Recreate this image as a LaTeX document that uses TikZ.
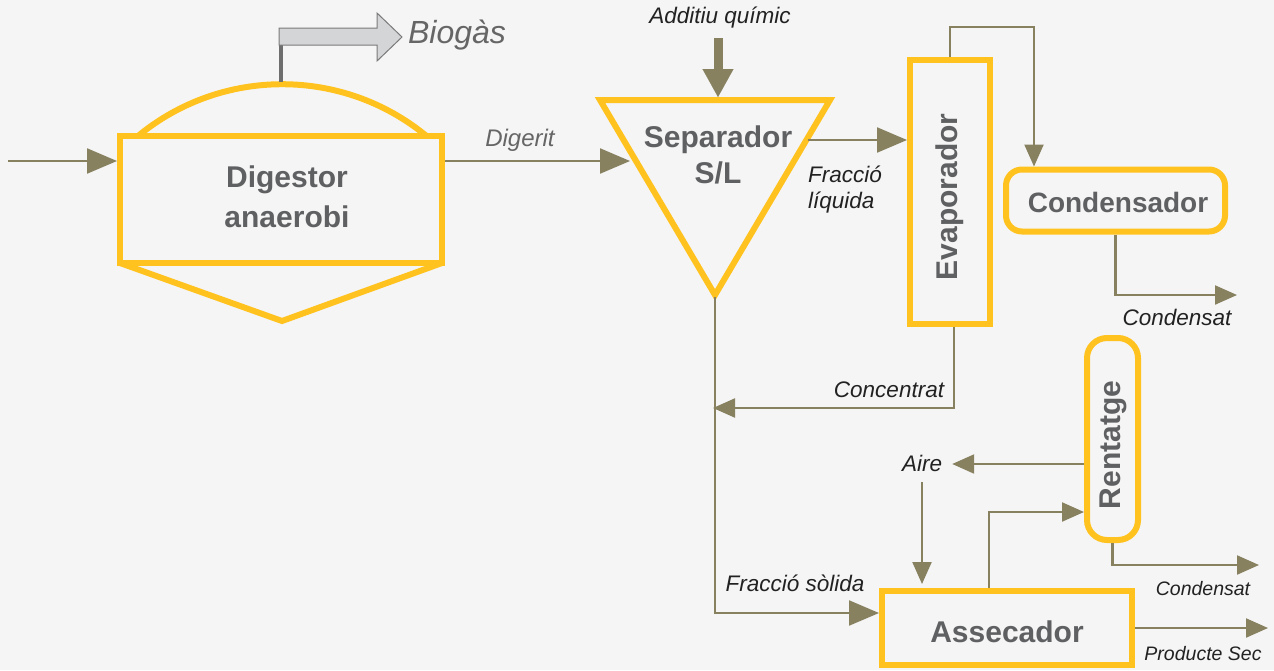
\documentclass[tikz,border=0pt]{standalone}
\usepackage{fontspec}
\setmainfont{Liberation Sans}
\usetikzlibrary{arrows.meta,calc}
\definecolor{bg}{HTML}{F5F5F5}
\definecolor{yel}{HTML}{FFC21F}
\definecolor{oli}{HTML}{878160}
\definecolor{txt}{HTML}{5F6062}
\definecolor{lab}{HTML}{222222}
\definecolor{gl}{HTML}{666666}
\definecolor{blk}{HTML}{D4D5D7}
\definecolor{blkd}{HTML}{7A7A7A}
\definecolor{stemc}{HTML}{6E6E6E}
\begin{document}
\begin{tikzpicture}[x=1pt,y=-1pt,
 flow/.style={oli, line width=2.2},
 bigtip/.style={-{Triangle[length=30pt,width=25pt]}},
 smalltip/.style={-{Triangle[length=22pt,width=19pt]}},
 unit/.style={draw=yel, line width=6, inner sep=0pt},
 btxt/.style={font=\fontsize{30}{40}\selectfont\bfseries, text=txt, inner sep=0pt, align=center},
 lbl/.style={font=\fontsize{22.5}{26}\selectfont\itshape, text=lab, inner sep=0pt},
 slbl/.style={font=\fontsize{19.5}{23}\selectfont\itshape, text=lab, inner sep=0pt},
]
\useasboundingbox (0,0) rectangle (1274,670);
\fill[bg] (0,0) rectangle (1274,670);

% Digestor
\node[unit, minimum width=322, minimum height=127] (dig) at (281,199.5) {};
\draw[yel, line width=6] (138,136) arc[start angle=-129.5, end angle=-50.5, radius=226.8];
\draw[yel, line width=6, line join=miter] (120,263) -- (282,321) -- (442,263);
\node[btxt] (digt) at (287,197) {Digestor\\anaerobi};

% Biogas
\draw[stemc, line width=4] (281,82) -- (281,45);
\draw[fill=blk, draw=blkd, line width=1, line join=miter] (279,28) -- (377,28) -- (377,13) -- (402,37) -- (377,61) -- (377,45) -- (279,45) -- cycle;
\node[lbl, text=gl, font=\fontsize{32}{36}\selectfont\itshape] (lbio) at (457,35) {Biogàs};

% Separador
\draw[yel, line width=6, line join=miter] (600,100) -- (830,100) -- (715,295) -- cycle;
\node[btxt, font=\fontsize{30}{36}\selectfont\bfseries] (sept) at (718,155) {Separador\\S/L};
\coordinate (sepL) at (630,161);
\coordinate (sepR) at (808,140);
\coordinate (sepT) at (718,97);
\coordinate (sepB) at (715,297);

% Evaporador
\node[unit, minimum width=80, minimum height=264] (evap) at (950,192) {};
\node[btxt, rotate=90] (evapt) at (950,197) {Evaporador};

% Condensador
\node[unit, rounded corners=16, minimum width=219, minimum height=62] (cond) at (1115.5,200.5) {};
\node[btxt, font=\fontsize{28}{34}\selectfont\bfseries] (condt) at (1118,202) {Condensador};

% Rentatge
\node[unit, rounded corners=20, minimum width=51, minimum height=202] (rent) at (1112.5,439) {};
\node[btxt, rotate=90] (rentt) at (1113,445) {Rentatge};

% Assecador
\node[unit, minimum width=250, minimum height=74] (ass) at (1007,628) {};
\node[btxt] (asst) at (1007,632) {Assecador};

% labels
\node[lbl] (ladd) at (720,18) {Additiu químic};
\node[lbl, text=gl, font=\fontsize{24}{28}\selectfont\itshape] (ldig) at (520,140) {Digerit};
\node[lbl, align=left, anchor=west] (lliq) at (808,190) {Fracció\\líquida};
\node[lbl] (lcond1) at (1177,317) {Condensat};
\node[lbl] (lconc) at (889,390) {Concentrat};
\node[lbl] (aire) at (922,463) {Aire};
\node[lbl] (lsol) at (795,583) {Fracció sòlida};
\node[slbl] (lcond2) at (1203,589) {Condensat};
\node[slbl] (lprod) at (1203,654) {Producte Sec};

% connectors
\coordinate (in) at (8,161);
\draw[flow,bigtip] (in) -- (dig.west |- in);
\draw[flow,bigtip] (dig.east |- in) -- (sepL);
\coordinate (addS) at (718,38);
\draw[oli, line width=9, -{Triangle[length=28pt,width=31pt,line width=0.1pt]}] (addS) -- (sepT);
\draw[flow,bigtip] (sepR) -- (evap.west |- sepR);
\draw[flow,smalltip] (evap.north) -- ++(0,-30) -| ($(cond.north west)+(31,0)$);
\coordinate (co1) at (1237,295);
\draw[flow,smalltip] (cond.south) |- (co1);
\coordinate (ctip) at (713,408);
\draw[flow,smalltip] ($(evap.south)+(4,0)$) |- (ctip);
\draw[flow,bigtip] (sepB) |- ($(ass.west)+(0,-15)$);
\draw[flow,smalltip] (rent.west |- 0,464) -- ($(aire.east)+(10,1)$);
\draw[flow,smalltip] ($(aire.south)+(0,11)$) -- ($(aire.south |- ass.north)+(0,-4)$);
\draw[flow,smalltip] (ass.north -| 989,0) |- (rent.west |- 0,512);
\coordinate (co2) at (1259,565);
\draw[flow,smalltip] (rent.south) |- (co2);
\coordinate (ps) at (1268,628);
\draw[flow,smalltip] (ass.east) -- (ps);
\end{tikzpicture}
\end{document}
